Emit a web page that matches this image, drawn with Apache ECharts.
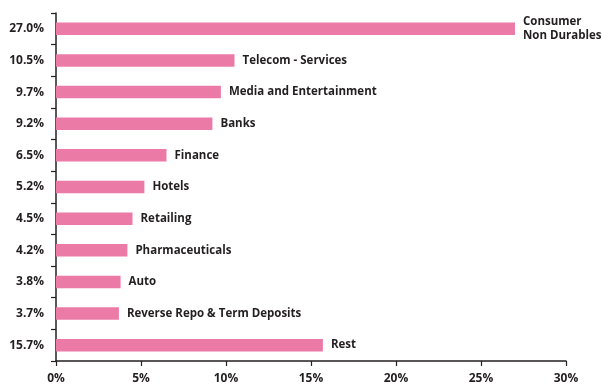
<!DOCTYPE html>
<html>
<head>
<meta charset="utf-8">
<script src="https://cdn.jsdelivr.net/npm/echarts@6/dist/echarts.min.js"></script>
<style>
  html, body { margin: 0; padding: 0; background: #ffffff; }
  #chart { width: 602px; height: 385px; }
</style>
</head>
<body>
<div id="chart"></div>
<script>
// Sector allocation (% of net assets)
const sectors = [
  'Consumer\nNon Durables',
  'Telecom - Services',
  'Media and Entertainment',
  'Banks',
  'Finance',
  'Hotels',
  'Retailing',
  'Pharmaceuticals',
  'Auto',
  'Reverse Repo & Term Deposits',
  'Rest'
];
const weights = [27.0, 10.5, 9.7, 9.2, 6.5, 5.2, 4.5, 4.2, 3.8, 3.7, 15.7];
const weightLabels = weights.map(v => v.toFixed(1) + '%');
const xTicks = [0, 5, 10, 15, 20, 25, 30];

const FONT = '"Open Sans", "Noto Sans", sans-serif';
const INK = '#231f20';

const chart = echarts.init(document.getElementById('chart'), null, { renderer: 'canvas' });
chart.setOption({
  animation: false,
  grid: { left: 56, right: 36, top: 13, bottom: 24, containLabel: false },
  xAxis: {
    type: 'value',
    min: xTicks[0],
    max: xTicks[xTicks.length - 1],
    interval: 5,
    splitLine: { show: false },
    axisLine: { show: true, lineStyle: { color: INK, width: 1.5 } },
    axisTick: { show: true, length: 5, lineStyle: { color: INK, width: 1.2 } },
    axisLabel: {
      formatter: v => v + '%',
      color: INK, fontFamily: FONT, fontWeight: 'bold', fontSize: 12, margin: 12
    }
  },
  yAxis: {
    type: 'category',
    inverse: true,
    data: weightLabels,
    axisLine: { show: true, lineStyle: { color: INK, width: 1.5 } },
    axisTick: { show: true, length: 5, alignWithLabel: false, lineStyle: { color: INK, width: 1.2 } },
    axisLabel: { color: INK, fontFamily: FONT, fontWeight: 'bold', fontSize: 12, margin: 12 }
  },
  series: [{
    type: 'bar',
    data: weights,
    barWidth: 12.5,
    itemStyle: { color: '#ec7aa7' },
    label: {
      show: true,
      position: 'right',
      distance: 8,
      formatter: p => sectors[p.dataIndex],
      color: INK, fontFamily: FONT, fontWeight: 'bold', fontSize: 11.5, lineHeight: 14
    }
  }]
});
</script>
</body>
</html>
